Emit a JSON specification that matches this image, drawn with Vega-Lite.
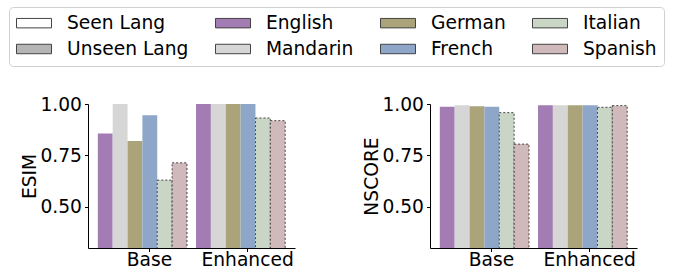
{
  "$schema": "https://vega.github.io/schema/vega-lite/v6.json",
  "padding": {"left": 8, "top": 6, "right": 2, "bottom": 0},
  "config": {
    "font": "DejaVu Sans",
    "view": {"stroke": null},
    "axis": {
      "labelFont": "DejaVu Sans", "titleFont": "DejaVu Sans",
      "labelFontSize": 18.67, "titleFontSize": 18.67, "titleFontWeight": "normal",
      "labelColor": "#000", "titleColor": "#000",
      "domainColor": "#000", "tickColor": "#000", "domainWidth": 1, "tickWidth": 1,
      "grid": false
    }
  },
  "data": {"values": [
    {"metric": "ESIM", "setting": "Base", "language": "English", "seen": "yes", "value": 0.857},
    {"metric": "ESIM", "setting": "Base", "language": "Mandarin", "seen": "yes", "value": 1.0},
    {"metric": "ESIM", "setting": "Base", "language": "German", "seen": "yes", "value": 0.82},
    {"metric": "ESIM", "setting": "Base", "language": "French", "seen": "yes", "value": 0.945},
    {"metric": "ESIM", "setting": "Base", "language": "Italian", "seen": "no", "value": 0.63},
    {"metric": "ESIM", "setting": "Base", "language": "Spanish", "seen": "no", "value": 0.714},
    {"metric": "ESIM", "setting": "Enhanced", "language": "English", "seen": "yes", "value": 1.0},
    {"metric": "ESIM", "setting": "Enhanced", "language": "Mandarin", "seen": "yes", "value": 1.0},
    {"metric": "ESIM", "setting": "Enhanced", "language": "German", "seen": "yes", "value": 1.0},
    {"metric": "ESIM", "setting": "Enhanced", "language": "French", "seen": "yes", "value": 1.0},
    {"metric": "ESIM", "setting": "Enhanced", "language": "Italian", "seen": "no", "value": 0.932},
    {"metric": "ESIM", "setting": "Enhanced", "language": "Spanish", "seen": "no", "value": 0.919},
    {"metric": "NSCORE", "setting": "Base", "language": "English", "seen": "yes", "value": 0.987},
    {"metric": "NSCORE", "setting": "Base", "language": "Mandarin", "seen": "yes", "value": 0.994},
    {"metric": "NSCORE", "setting": "Base", "language": "German", "seen": "yes", "value": 0.989},
    {"metric": "NSCORE", "setting": "Base", "language": "French", "seen": "yes", "value": 0.987},
    {"metric": "NSCORE", "setting": "Base", "language": "Italian", "seen": "no", "value": 0.958},
    {"metric": "NSCORE", "setting": "Base", "language": "Spanish", "seen": "no", "value": 0.805},
    {"metric": "NSCORE", "setting": "Enhanced", "language": "English", "seen": "yes", "value": 0.994},
    {"metric": "NSCORE", "setting": "Enhanced", "language": "Mandarin", "seen": "yes", "value": 0.994},
    {"metric": "NSCORE", "setting": "Enhanced", "language": "German", "seen": "yes", "value": 0.994},
    {"metric": "NSCORE", "setting": "Enhanced", "language": "French", "seen": "yes", "value": 0.994},
    {"metric": "NSCORE", "setting": "Enhanced", "language": "Italian", "seen": "no", "value": 0.984},
    {"metric": "NSCORE", "setting": "Enhanced", "language": "Spanish", "seen": "no", "value": 0.992}
  ]},
  "spacing": 67,
  "hconcat": [
    {
      "width": 207, "height": 144,
      "transform": [{"filter": "datum.metric === 'ESIM'"}],
      "mark": {"type": "bar", "clip": true},
      "encoding": {
        "x": {"field": "setting", "type": "nominal", "scale": {"paddingInner": 0.092, "paddingOuter": 0.1},
              "axis": {"title": null, "labelAngle": 0, "tickOffset": 6.5, "tickSize": 3.5, "labelPadding": -1}},
        "xOffset": {"field": "language", "type": "nominal", "sort": ["English", "Mandarin", "German", "French", "Italian", "Spanish"], "scale": {"paddingInner": 0, "paddingOuter": 0}},
        "y": {"field": "value", "type": "quantitative", "scale": {"domain": [0.3, 1.0], "nice": false, "zero": false},
              "axis": {"title": "ESIM", "values": [0.5, 0.75, 1.0], "format": ".2f", "tickSize": 3.5, "labelPadding": 3, "titlePadding": 0}},
        "color": {"field": "language", "type": "nominal",
          "scale": {"domain": ["Seen Lang", "English", "German", "Italian", "Unseen Lang", "Mandarin", "French", "Spanish"],
                    "range": ["#ffffff", "#a37cb4", "#aba47a", "#c9d5c5", "#b5b5b5", "#d6d6d6", "#8ea6c8", "#d0b9bb"]},
          "legend": {"title": null, "orient": "none", "legendX": -79, "legendY": -97, "columns": 4, "direction": "horizontal",
                     "labelFontSize": 18.67, "labelFont": "DejaVu Sans", "labelColor": "#000", "labelOffset": 15, "columnPadding": 26, "rowPadding": 7, "clipHeight": 18,
                     "symbolType": "M-1,-0.27H1V0.27H-1Z", "symbolSize": 1225, "symbolStrokeColor": "#444", "symbolStrokeWidth": 1, "symbolOpacity": 1,
                     "strokeColor": "#d0d0d0", "cornerRadius": 4, "padding": 7, "fillColor": "#ffffff", "labelLimit": 300,
                     "encode": {"symbols": {"update": {"stroke": {"value": "#444"}, "strokeWidth": {"value": 1}, "strokeDash": {"value": []}}}}}},
        "stroke": {"condition": {"test": "datum.seen === 'no'", "value": "#444"}, "value": null},
        "strokeDash": {"condition": {"test": "datum.seen === 'no'", "value": [2, 2]}, "value": []}
      }
    },
    {
      "width": 207, "height": 144,
      "transform": [{"filter": "datum.metric === 'NSCORE'"}],
      "mark": {"type": "bar", "clip": true},
      "encoding": {
        "x": {"field": "setting", "type": "nominal", "scale": {"paddingInner": 0.092, "paddingOuter": 0.1},
              "axis": {"title": null, "labelAngle": 0, "tickOffset": 6.5, "tickSize": 3.5, "labelPadding": -1}},
        "xOffset": {"field": "language", "type": "nominal", "sort": ["English", "Mandarin", "German", "French", "Italian", "Spanish"], "scale": {"paddingInner": 0, "paddingOuter": 0}},
        "y": {"field": "value", "type": "quantitative", "scale": {"domain": [0.3, 1.0], "nice": false, "zero": false},
              "axis": {"title": "NSCORE", "values": [0.5, 0.75, 1.0], "format": ".2f", "tickSize": 3.5, "labelPadding": 3, "titlePadding": 0}},
        "color": {"field": "language", "type": "nominal"},
        "stroke": {"condition": {"test": "datum.seen === 'no'", "value": "#444"}, "value": null},
        "strokeDash": {"condition": {"test": "datum.seen === 'no'", "value": [2, 2]}, "value": []}
      }
    }
  ],
  "resolve": {"scale": {"color": "shared", "y": "independent", "x": "independent"}}
}
